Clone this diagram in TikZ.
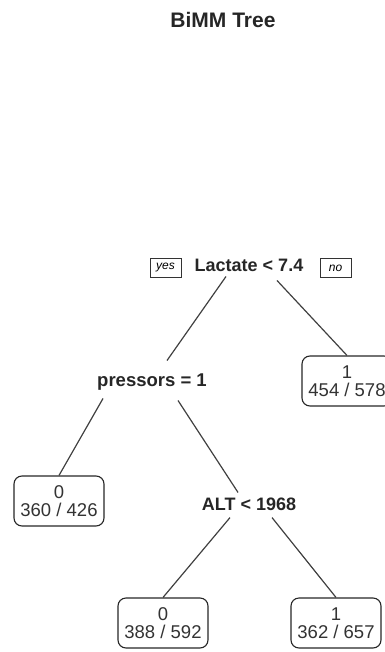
\documentclass[tikz,border=0pt]{standalone}
\usepackage{fontspec}
\setmainfont{Liberation Sans}
\usetikzlibrary{calc}
\begin{document}
\begin{tikzpicture}[x=1pt,y=-1pt,
  split/.style={font=\fontsize{18}{20}\selectfont\bfseries, text=black!85, inner sep=0pt},
  leaf/.style={draw=black!85, line width=1.1pt, rounded corners=8pt, minimum width=90pt, minimum height=50pt, align=center, inner sep=0pt, font=\fontsize{18.5}{18}\selectfont, text=black!80},
  yn/.style={draw=black!80, line width=0.9pt, minimum width=31pt, minimum height=19pt, inner sep=0pt, font=\fontsize{12}{12}\selectfont\itshape},
  edge/.style={draw=black!75, line width=1.2pt}]
\useasboundingbox (0,0) rectangle (384,652);
\node[font=\fontsize{21}{24}\selectfont\bfseries, text=black!85] (title) at (223,20) {BiMM Tree};
\node[split] (root) at (249,265) {Lactate < 7.4};
\node[yn] (yes) at (165.5,267.5) {yes};
\node[yn] (no) at (335.5,268) {no};
\node[split, font=\fontsize{18.5}{20}\selectfont\bfseries] (pres) at (152,382) {pressors = 1};
\node[split] (alt) at (249,504) {ALT < 1968};
\node[leaf] (l1) at (347,381) {1\\[0pt]454 / 578};
\node[leaf] (l2) at (59,501) {0\\[0pt]360 / 426};
\node[leaf] (l3) at (163,623) {0\\[0pt]388 / 592};
\node[leaf] (l4) at (336,623) {1\\[0pt]362 / 657};
\coordinate (rL) at ($(root.south)+(-23,5)$);
\coordinate (rR) at ($(root.south)+(28,9)$);
\coordinate (pL) at ($(pres.south)+(-49,8)$);
\coordinate (pR) at ($(pres.south)+(26,10)$);
\coordinate (aL) at ($(alt.south)+(-19,7)$);
\coordinate (aR) at ($(alt.south)+(23,7)$);
\coordinate (aT) at ($(alt.north)+(-11,-5)$);
\coordinate (pT) at ($(pres.north)+(15,-13)$);
\draw[edge] (rL) -- (pT);
\draw[edge] (rR) -- (l1.north);
\draw[edge] (pL) -- (l2.north);
\draw[edge] (pR) -- (aT);
\draw[edge] (aL) -- (l3.north);
\draw[edge] (aR) -- (l4.north);
\end{tikzpicture}
\end{document}
